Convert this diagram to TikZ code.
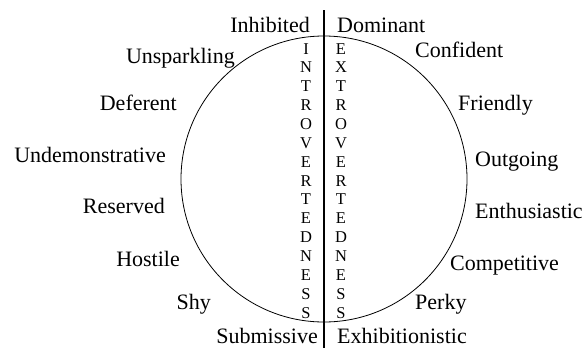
\documentclass[tikz,border=0pt]{standalone}
\usepackage{fontspec}
\setmainfont{Liberation Serif}

\begin{document}
\begin{tikzpicture}[x=1pt, y=-1pt,
  every node/.style={inner sep=0pt, font=\fontsize{22}{26}\selectfont},
  lft/.style={anchor=base east},
  rgt/.style={anchor=base west},
  letter/.style={anchor=base, font=\fontsize{16.5}{19}\selectfont}]
\useasboundingbox (0,0) rectangle (586,348);
\node [draw, circle, minimum size=286pt, line width=0.8pt] (face) at (324,179) {};
\coordinate (top) at (324,10);
\coordinate (bot) at (324,348);
\draw [line width=1.2pt] (top) -- (bot);
% letters down the middle
\foreach \ch [count=\k from 0] in {I,N,T,R,O,V,E,R,T,E,D,N,E,S,S}
  \node [letter] (intro-\k) at (306,54+18.86*\k) {\ch};
\foreach \ch [count=\k from 0] in {E,X,T,R,O,V,E,R,T,E,D,N,E,S,S}
  \node [letter] (extro-\k) at (341,54+18.86*\k) {\ch};
% left side
\node [lft] (inhib) at (310,32) {Inhibited};
\node [lft] (unspark) at (235,63) {Unsparkling};
\node [lft] (defer) at (177,110) {Deferent};
\node [lft] (undem) at (166,162) {Undemonstrative};
\node [lft] (reserv) at (165,213) {Reserved};
\node [lft] (hostil) at (180,266) {Hostile};
\node [lft] (shy) at (211,309) {Shy};
\node [lft] (submis) at (318,343) {Submissive};
% right side
\node [rgt] (domin) at (337,32) {Dominant};
\node [rgt] (confid) at (415,57) {Confident};
\node [rgt] (friend) at (458,110) {Friendly};
\node [rgt] (outgo) at (475,166) {Outgoing};
\node [rgt] (enthus) at (475,218) {Enthusiastic};
\node [rgt] (compet) at (450,270) {Competitive};
\node [rgt] (perky) at (415,309) {Perky};
\node [rgt] (exhib) at (337,343) {Exhibitionistic};
\end{tikzpicture}
\end{document}
